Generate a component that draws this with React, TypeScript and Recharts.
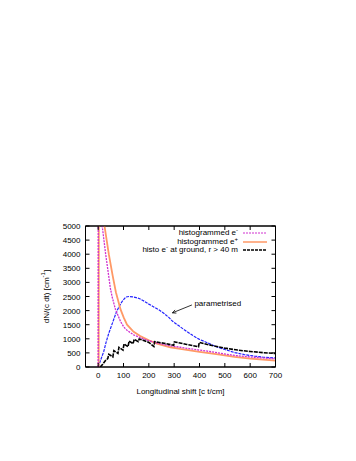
import {
  LineChart,
  Line,
  XAxis,
  YAxis,
  ReferenceLine,
  ReferenceDot,
  ReferenceArea,
} from "recharts";

// [shift c t/cm, dN/(c dt)]
const histoEMinus: [number, number][] = [
  [0, 0], [0.5, 9000], [10, 6000], [16, 5000], [29, 4040], [42, 3200],
  [48, 2800], [55, 2490], [68, 2050], [88, 1620], [101, 1420], [114, 1300],
  [140, 1140], [166, 1040], [180, 990], [200, 930], [232, 850], [285, 750],
  [324, 700], [360, 650], [400, 600], [430, 565], [480, 490], [538, 410],
  [600, 355], [650, 320], [700, 290],
];

const histoEPlus: [number, number][] = [
  [2, 0], [3, 9000], [14, 6500], [25, 5000], [42, 4000], [57, 3250],
  [70, 2650], [88, 2050], [101, 1750], [114, 1500], [140, 1250], [166, 1100],
  [200, 950], [232, 830], [285, 700], [324, 640], [400, 540], [430, 500],
  [480, 440], [538, 360], [600, 300], [650, 262], [700, 228],
];

const histoGround: [number, number][] = [
  [8, 0], [18, 100], [28, 220], [38, 300], [42, 450], [58, 360], [62, 580],
  [78, 480], [82, 700], [98, 600], [102, 820], [118, 720], [122, 920],
  [138, 830], [142, 980], [158, 900], [162, 990], [180, 940], [200, 870],
  [220, 730], [223, 900], [260, 840], [298, 770], [301, 890], [350, 800],
  [396, 720], [399, 870], [450, 760], [500, 670], [550, 600], [600, 550],
  [650, 510], [700, 480],
];

const parametrised: [number, number][] = [
  [0, 0], [10, 250], [22, 550], [32, 900], [42, 1200], [52, 1450],
  [62, 1700], [72, 1950], [83, 2150], [95, 2330], [109, 2480], [122, 2500],
  [136, 2490], [150, 2460], [162, 2430], [175, 2370], [188, 2300],
  [200, 2230], [221, 2120], [241, 2020], [260, 1900], [280, 1750],
  [294, 1620], [320, 1450], [340, 1320], [360, 1200], [380, 1080],
  [400, 980], [426, 880], [460, 740], [500, 620], [540, 510], [577, 440],
  [617, 385], [650, 350], [700, 320],
];

const xTicks = [0, 100, 200, 300, 400, 500, 600, 700];
const yTicks = [0, 500, 1000, 1500, 2000, 2500, 3000, 3500, 4000, 4500, 5000];

const legendItems = [
  { name: "histogrammed e", sup: "-", color: "#d030d0", dash: "2 1", width: 1 },
  { name: "histogrammed e", sup: "+", color: "#ff9966", dash: "", width: 1.5 },
  { name: "histo e", sup: "-", rest: " at ground, r > 40 m", color: "#000", dash: "3 1", width: 1.5 },
];

const FONT = "'Liberation Sans', Arial, sans-serif";
const toRows = (d: [number, number][]) => d.map(([x, y]) => ({ x, y }));
const TICK = 4;

function BottomTick({ x, y, payload }: any) {
  return (
    <g>
      <line x1={x} x2={x} y1={y - 8} y2={y - 8 - TICK} stroke="#000" />
      <text x={x} y={y + 3} textAnchor="middle" fontSize={8} fontFamily={FONT} fill="#000">
        {payload.value}
      </text>
    </g>
  );
}

function LeftTick({ x, y, payload }: any) {
  return (
    <g>
      <line x1={x + 5} x2={x + 5 + TICK} y1={y} y2={y} stroke="#000" />
      <text x={x} y={y + 3} textAnchor="end" fontSize={8} fontFamily={FONT} fill="#000">
        {payload.value}
      </text>
    </g>
  );
}

function TopTick({ x, y }: any) {
  return <line x1={x} x2={x} y1={y} y2={y + TICK} stroke="#000" />;
}

function RightTick({ x, y }: any) {
  return <line x1={x} x2={x - TICK} y1={y} y2={y} stroke="#000" />;
}

function YLabel({ viewBox }: any) {
  const cx = viewBox.x - 4;
  const cy = viewBox.y + viewBox.height / 2;
  return (
    <text
      x={cx}
      y={cy}
      transform={`rotate(-90 ${cx} ${cy})`}
      textAnchor="middle"
      dominantBaseline="central"
      fontSize={8}
      fontFamily={FONT}
      fill="#000"
    >
      dN/(c dt) [cm<tspan dy={-3} fontSize={6}>-1</tspan><tspan dy={3}>]</tspan>
    </text>
  );
}

function XLabel({ viewBox }: any) {
  return (
    <text
      x={viewBox.x + viewBox.width / 2}
      y={viewBox.y + 27}
      textAnchor="middle"
      fontSize={8}
      fontFamily={FONT}
      fill="#000"
    >
      Longitudinal shift [c t/cm]
    </text>
  );
}

function Arrow(props: any) {
  const { x1, y1, x2, y2 } = props;
  const a = Math.atan2(y2 - y1, x2 - x1);
  const h = 4;
  const p1 = [x2 - h * Math.cos(a - 0.45), y2 - h * Math.sin(a - 0.45)];
  const p2 = [x2 - h * Math.cos(a + 0.45), y2 - h * Math.sin(a + 0.45)];
  return (
    <g stroke="#000" strokeWidth={0.8} fill="none">
      <line x1={x1} y1={y1} x2={x2} y2={y2} />
      <polyline points={`${p1[0]},${p1[1]} ${x2},${y2} ${p2[0]},${p2[1]}`} />
    </g>
  );
}

function LegendBox() {
  return (
    <div
      style={{
        position: "absolute",
        top: 229,
        left: 100,
        width: 170,
        fontFamily: FONT,
        fontSize: 8,
        lineHeight: "8.5px",
        color: "#000",
      }}
    >
      {legendItems.map((it, i) => (
        <div key={i} style={{ display: "flex", justifyContent: "flex-end", alignItems: "center", height: 8.5 }}>
          <span style={{ whiteSpace: "nowrap" }}>
            {it.name}
            <sup style={{ fontSize: 6, lineHeight: 0, verticalAlign: 3 }}>{it.sup}</sup>
            {it.rest ?? ""}
          </span>
          <svg width={29} height={8} style={{ marginLeft: 3 }}>
            <line x1={2} x2={26} y1={4} y2={4} stroke={it.color} strokeWidth={it.width} strokeDasharray={it.dash || undefined} />
          </svg>
        </div>
      ))}
    </div>
  );
}

export default function App() {
  return (
    <div style={{ position: "absolute", left: 0, top: 0, width: 356, height: 461, background: "#fff" }}>
      <LineChart
        width={356}
        height={461}
        margin={{ top: 225, right: 79.5, bottom: 74, left: 50 }}
      >
        <XAxis
          dataKey="x"
          type="number"
          domain={[-50, 700]}
          ticks={xTicks}
          interval={0}
          allowDataOverflow
          height={20}
          tickSize={0}
          tickMargin={8}
          tick={<BottomTick />}
          axisLine={{ stroke: "#000" }}
          tickLine={false}
          label={(p: any) => <XLabel {...p} />}
        />
        <XAxis
          xAxisId="top"
          orientation="top"
          dataKey="x"
          type="number"
          domain={[-50, 700]}
          ticks={xTicks}
          interval={0}
          allowDataOverflow
          height={1}
          tickSize={0}
          tickMargin={0}
          tick={<TopTick />}
          axisLine={{ stroke: "#000" }}
          tickLine={false}
        />
        <YAxis
          type="number"
          domain={[0, 5000]}
          ticks={yTicks}
          interval={0}
          allowDataOverflow
          width={35.5}
          tickSize={0}
          tickMargin={5}
          tick={<LeftTick />}
          axisLine={{ stroke: "#000" }}
          tickLine={false}
          label={(p: any) => <YLabel {...p} />}
        />
        <YAxis
          yAxisId="right"
          orientation="right"
          type="number"
          domain={[0, 5000]}
          ticks={yTicks}
          interval={0}
          allowDataOverflow
          width={1}
          tickSize={0}
          tickMargin={0}
          tick={<RightTick />}
          axisLine={{ stroke: "#000" }}
          tickLine={false}
        />
        <ReferenceArea
          x1={-50}
          x2={700}
          y1={0}
          y2={5000}
          fill="none"
          fillOpacity={0}
          stroke="#000"
          strokeWidth={1}
          ifOverflow="visible"
        />
        <Line
          data={toRows(parametrised)}
          dataKey="y"
          name="parametrised"
          stroke="#2222ff"
          strokeWidth={1.2}
          strokeDasharray="3 1"
          dot={false}
          activeDot={false}
          type="linear"
          isAnimationActive={false}
        />
        <Line
          data={toRows(histoEPlus)}
          dataKey="y"
          name="histogrammed e+"
          stroke="#ff9966"
          strokeWidth={1.8}
          dot={false}
          activeDot={false}
          type="linear"
          isAnimationActive={false}
        />
        <Line
          data={toRows(histoEMinus)}
          dataKey="y"
          name="histogrammed e-"
          stroke="#d030d0"
          strokeWidth={1.3}
          strokeDasharray="2 1"
          dot={false}
          activeDot={false}
          type="linear"
          isAnimationActive={false}
        />
        <Line
          data={toRows(histoGround)}
          dataKey="y"
          name="histo e- at ground"
          stroke="#000"
          strokeWidth={1.6}
          strokeDasharray="4 1"
          dot={false}
          activeDot={false}
          type="linear"
          isAnimationActive={false}
        />
        <ReferenceLine
          segment={[{ x: 370, y: 2200 }, { x: 293, y: 1920 }]}
          shape={(p: any) => <Arrow {...p} />}
        />
        <ReferenceDot
          x={380}
          y={2280}
          r={0}
          stroke="none"
          fill="none"
          label={{ value: "parametrised", position: "right", offset: 0, fontSize: 8, fontFamily: FONT, fill: "#000" }}
        />
      </LineChart>
      <LegendBox />
    </div>
  );
}
